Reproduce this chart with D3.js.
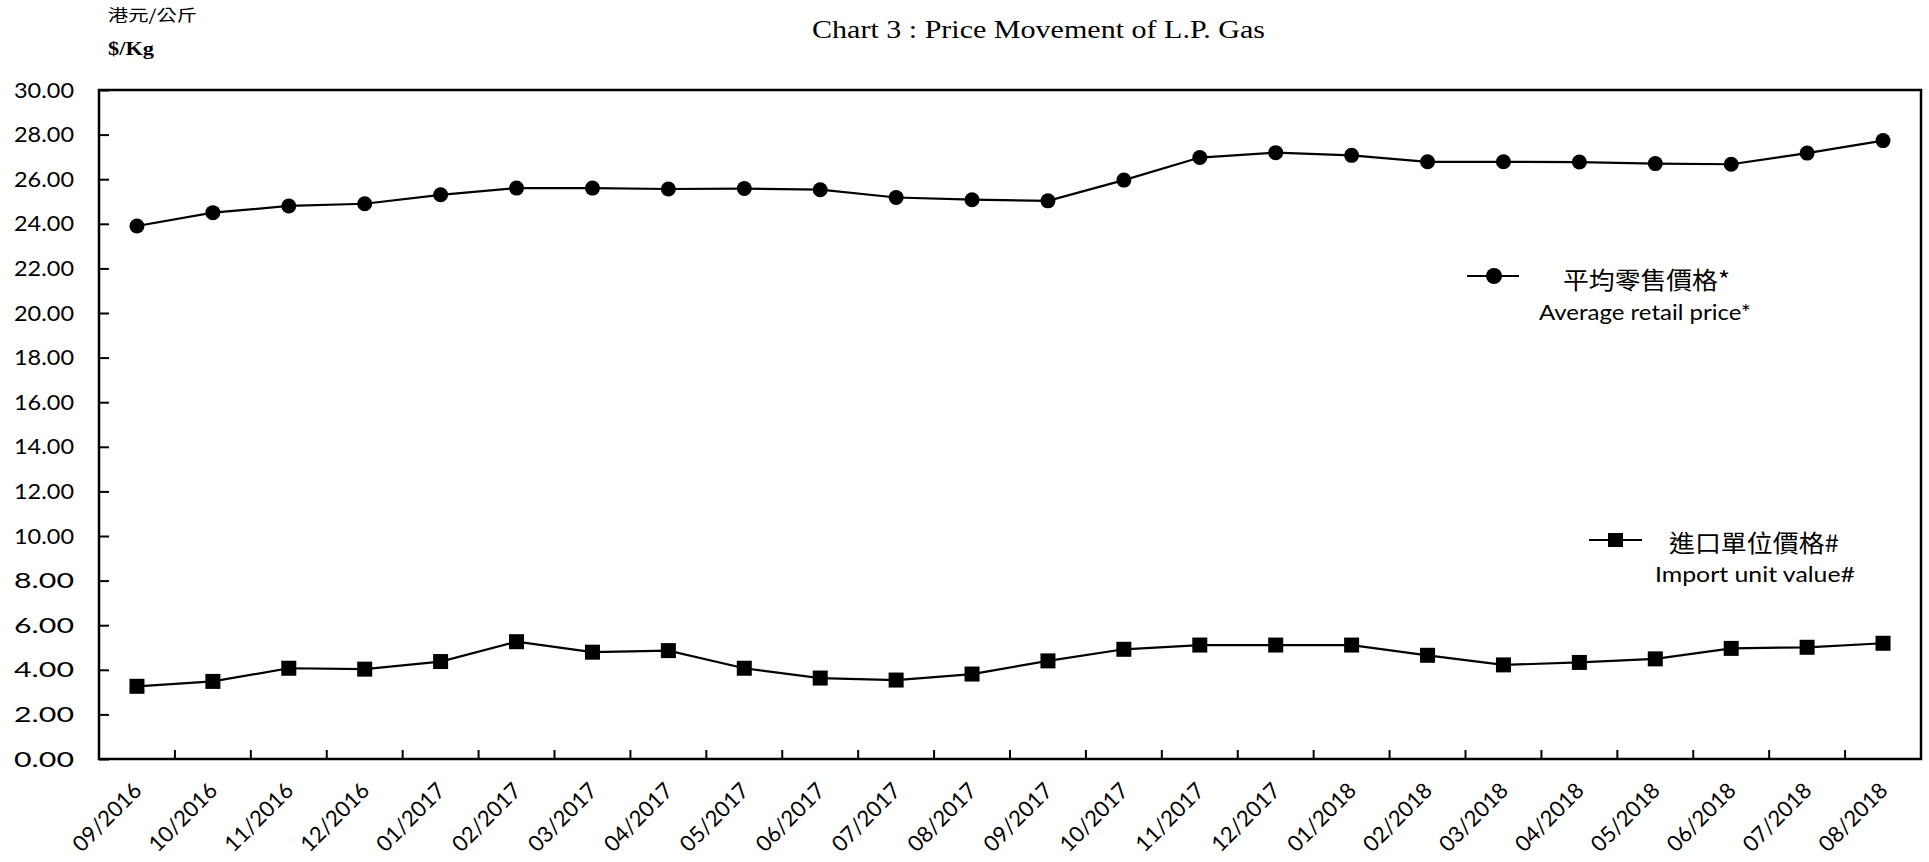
<!DOCTYPE html>
<html>
<head>
<meta charset="utf-8">
<script src="https://cdn.jsdelivr.net/npm/d3@7"></script>
<style>
  body { margin: 0; background: #fff; }
  svg { display: block; }
</style>
</head>
<body>
<svg></svg>
<script>
// months on the x axis
var months = ["09/2016","10/2016","11/2016","12/2016","01/2017","02/2017","03/2017","04/2017",
  "05/2017","06/2017","07/2017","08/2017","09/2017","10/2017","11/2017","12/2017",
  "01/2018","02/2018","03/2018","04/2018","05/2018","06/2018","07/2018","08/2018"];

// average retail price ($/Kg)
var retailPrice = [23.9,24.5,24.8,24.9,25.3,25.6,25.6,25.56,25.58,25.53,25.18,25.08,
  25.03,25.96,26.97,27.19,27.07,26.78,26.78,26.77,26.70,26.67,27.17,27.73];

// import unit value ($/Kg)
var importValue = [3.26,3.48,4.07,4.03,4.37,5.26,4.79,4.86,4.07,3.63,3.54,3.81,
  4.40,4.92,5.11,5.11,5.11,4.65,4.22,4.33,4.49,4.96,5.01,5.19];

var yTicks = [0,2,4,6,8,10,12,14,16,18,20,22,24,26,28,30];

var svgWidth = 1929, svgHeight = 862;
var plotLeft = 99, plotRight = 1921, plotTop = 90, plotBottom = 759;

var svg = d3.select("svg")
  .attr("width", svgWidth)
  .attr("height", svgHeight);

var xScale = d3.scaleBand()
  .domain(months)
  .range([plotLeft, plotRight]);

var yScale = d3.scaleLinear()
  .domain([0, 30])
  .range([plotBottom, plotTop]);

var latin = "Lato, 'Open Sans', sans-serif";
var cjk = "'Noto Sans CJK TC', 'Noto Sans CJK SC', sans-serif";
var serif = "'Liberation Serif', 'Times New Roman', serif";

// y axis, ticks pointing inward
var y_axis = d3.axisLeft(yScale)
  .tickValues(yTicks)
  .tickSizeInner(-10)
  .tickSizeOuter(0)
  .tickPadding(25)
  .tickFormat(d3.format(".2f"));

var gy = svg.append("g")
  .attr("transform", "translate(" + plotLeft + ",0)")
  .call(y_axis);
gy.select(".domain").remove();
gy.selectAll("line").attr("stroke", "#000").attr("stroke-width", 2);
gy.selectAll("text")
  .attr("font-family", latin)
  .attr("font-size", 22)
  .attr("textLength", 60)
  .attr("lengthAdjust", "spacingAndGlyphs")
  .attr("fill", "#000");

// x axis labels (rotated)
var x_axis = d3.axisBottom(xScale).tickSize(0).tickPadding(0);
var gx = svg.append("g")
  .attr("transform", "translate(0," + plotBottom + ")")
  .call(x_axis);
gx.select(".domain").remove();
gx.selectAll("text")
  .attr("font-family", latin)
  .attr("font-size", 22)
  .attr("fill", "#000")
  .attr("text-anchor", "end")
  .attr("dy", null)
  .attr("y", null)
  .attr("transform", "translate(6,33) rotate(-45)");

// x ticks at category boundaries, pointing up
svg.selectAll(".xtick")
  .data(months.slice(1))
  .enter()
  .append("line")
  .attr("class", "xtick")
  .attr("x1", function(d){ return xScale(d); })
  .attr("x2", function(d){ return xScale(d); })
  .attr("y1", plotBottom)
  .attr("y2", plotBottom - 9)
  .attr("stroke", "#000")
  .attr("stroke-width", 2);

// plot frame
svg.append("rect")
  .attr("x", plotLeft)
  .attr("y", plotTop)
  .attr("width", plotRight - plotLeft)
  .attr("height", plotBottom - plotTop)
  .attr("fill", "none")
  .attr("stroke", "#000")
  .attr("stroke-width", 2.5);

var cx = function(d, i){ return xScale(months[i]) + xScale.bandwidth() / 2; };

var line = d3.line()
  .x(function(d, i){ return cx(d, i); })
  .y(function(d){ return yScale(d); });

svg.append("path")
  .datum(retailPrice)
  .attr("d", line)
  .attr("fill", "none")
  .attr("stroke", "#000")
  .attr("stroke-width", 2.2);

svg.append("path")
  .datum(importValue)
  .attr("d", line)
  .attr("fill", "none")
  .attr("stroke", "#000")
  .attr("stroke-width", 2.2);

svg.selectAll(".dot")
  .data(retailPrice)
  .enter()
  .append("circle")
  .attr("class", "dot")
  .attr("cx", cx)
  .attr("cy", function(d){ return yScale(d); })
  .attr("r", 7.5)
  .attr("fill", "#000");

var sq = 15;
svg.selectAll(".sq")
  .data(importValue)
  .enter()
  .append("rect")
  .attr("class", "sq")
  .attr("x", function(d, i){ return cx(d, i) - sq / 2; })
  .attr("y", function(d){ return yScale(d) - sq / 2; })
  .attr("width", sq)
  .attr("height", sq)
  .attr("fill", "#000");

// title and unit
svg.append("text")
  .attr("x", 812)
  .attr("y", 38)
  .attr("font-family", serif)
  .attr("font-size", 26)
  .attr("textLength", 453)
  .attr("lengthAdjust", "spacingAndGlyphs")
  .text("Chart 3 :  Price Movement of L.P. Gas");

svg.append("text")
  .attr("x", 108)
  .attr("y", 21)
  .attr("font-family", cjk)
  .attr("font-size", 16)
  .attr("textLength", 89)
  .attr("lengthAdjust", "spacingAndGlyphs")
  .text("港元/公斤");

svg.append("text")
  .attr("x", 108)
  .attr("y", 55)
  .attr("font-family", serif)
  .attr("font-weight", "bold")
  .attr("font-size", 18)
  .attr("textLength", 46)
  .attr("lengthAdjust", "spacingAndGlyphs")
  .text("$/Kg");

// legend
function legendText(x, y, font, size, len, str) {
  svg.append("text")
    .attr("x", x).attr("y", y)
    .attr("font-family", font).attr("font-size", size)
    .attr("textLength", len)
    .attr("lengthAdjust", "spacingAndGlyphs")
    .text(str);
}

svg.append("line")
  .attr("x1", 1467).attr("x2", 1519)
  .attr("y1", 276).attr("y2", 276)
  .attr("stroke", "#000").attr("stroke-width", 2.2);
svg.append("circle")
  .attr("cx", 1494).attr("cy", 276).attr("r", 8).attr("fill", "#000");
legendText(1563, 289, cjk, 24, 167, "平均零售價格*");
legendText(1539, 320, latin, 22, 212, "Average retail price*");

svg.append("line")
  .attr("x1", 1589).attr("x2", 1642)
  .attr("y1", 540).attr("y2", 540)
  .attr("stroke", "#000").attr("stroke-width", 2.2);
svg.append("rect")
  .attr("x", 1608).attr("y", 533).attr("width", 15).attr("height", 14).attr("fill", "#000");
legendText(1669, 552, cjk, 24, 170, "進口單位價格#");
legendText(1655, 582, latin, 22, 200, "Import unit value#");
</script>
</body>
</html>
